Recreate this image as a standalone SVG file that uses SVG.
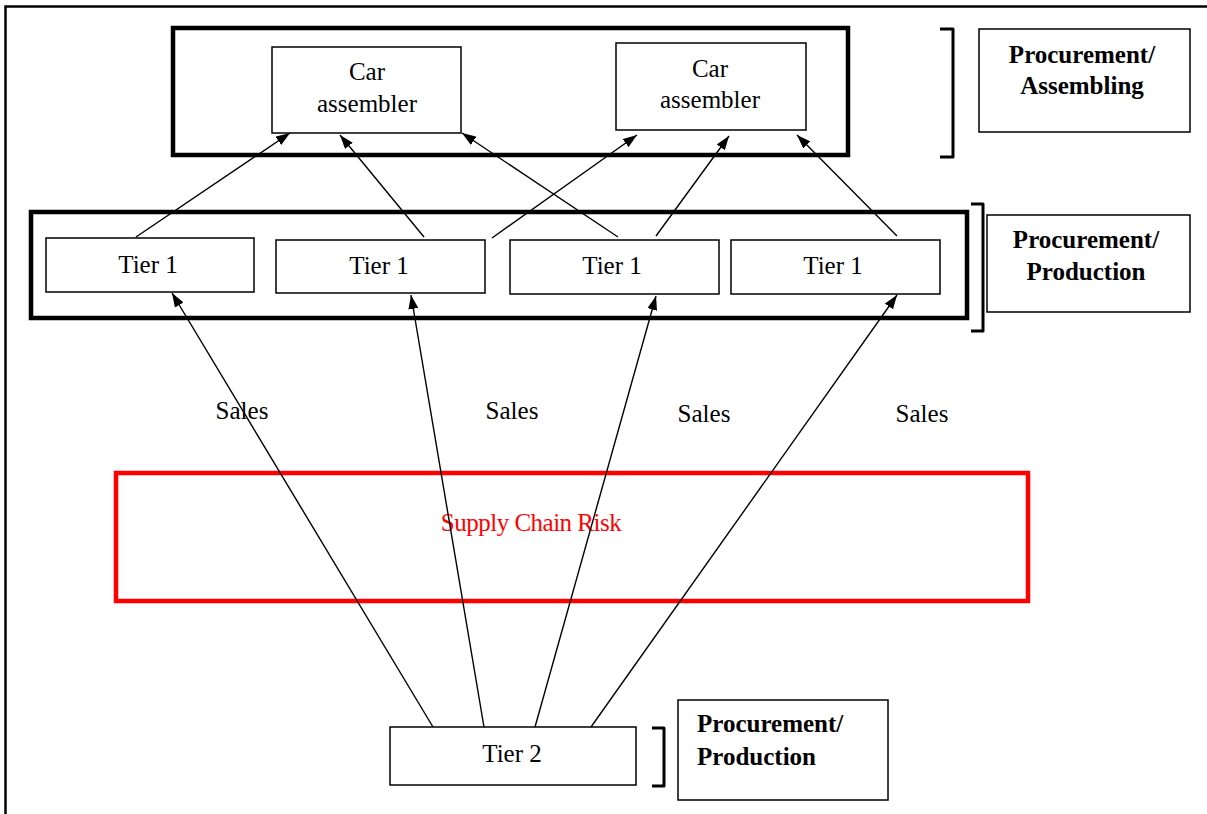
<svg xmlns="http://www.w3.org/2000/svg" width="1207" height="814" viewBox="0 0 1207 814">
<defs>
<marker id="ah" viewBox="0 0 14 10" refX="14" refY="5" markerWidth="14" markerHeight="10" markerUnits="userSpaceOnUse" orient="auto">
<path d="M0,0 L14,5 L0,10 Z" fill="#000"/>
</marker>
<style>
text{font-family:'Liberation Serif','Times New Roman',Times,serif;font-size:25px;fill:#000;text-anchor:middle}
.b{font-weight:bold}
.box{fill:#fff;stroke:#000;stroke-width:1.5}
.thick{fill:none;stroke:#000;stroke-width:4.5}
.br{fill:none;stroke:#000;stroke-width:3;stroke-linejoin:round}
.c{fill:none;stroke:#000;stroke-width:1.4;marker-end:url(#ah)}
</style>
</defs>
<rect x="0" y="0" width="1207" height="814" fill="#fff"/>
<rect x="5.5" y="6.5" width="1230" height="840" fill="none" stroke="#000" stroke-width="2.5"/>

<g id="assembling-group">
<rect class="thick" x="173" y="28" width="675" height="127"/>
</g>
<g id="production-group">
<rect class="thick" x="31" y="212" width="936" height="106"/>
</g>
<g id="risk">
<rect x="116" y="473" width="912" height="128" fill="none" stroke="#ff0000" stroke-width="4.5"/>
<text font-family="Liberation Serif, serif" x="531" y="531" style="fill:#ff0000" letter-spacing="-0.5">Supply Chain Risk</text>
</g>

<g id="car1">
<rect class="box" x="272" y="47" width="189" height="86"/>
<text font-family="Liberation Serif, serif" x="367" y="80">Car</text>
<text font-family="Liberation Serif, serif" x="367" y="112">assembler</text>
</g>
<g id="car2">
<rect class="box" x="616" y="43" width="190" height="87"/>
<text font-family="Liberation Serif, serif" x="710" y="77">Car</text>
<text font-family="Liberation Serif, serif" x="710" y="108">assembler</text>
</g>

<g id="tier1-a">
<rect class="box" x="46" y="238" width="208" height="54"/>
<text font-family="Liberation Serif, serif" x="148" y="273">Tier 1</text>
</g>
<g id="tier1-b">
<rect class="box" x="276" y="240" width="209" height="53"/>
<text font-family="Liberation Serif, serif" x="379" y="274">Tier 1</text>
</g>
<g id="tier1-c">
<rect class="box" x="510" y="240" width="209" height="54"/>
<text font-family="Liberation Serif, serif" x="612" y="274">Tier 1</text>
</g>
<g id="tier1-d">
<rect class="box" x="731" y="240" width="209" height="54"/>
<text font-family="Liberation Serif, serif" x="833" y="274">Tier 1</text>
</g>

<g id="tier2">
<rect class="box" x="390" y="727" width="246" height="58"/>
<text font-family="Liberation Serif, serif" x="512" y="762">Tier 2</text>
</g>

<g id="label-assembling">
<path class="br" d="M940,29 H953 V157 H940"/>
<rect class="box" x="979" y="29" width="211" height="103"/>
<text class="b" font-family="Liberation Serif, serif" x="1082" y="63">Procurement/</text>
<text class="b" font-family="Liberation Serif, serif" x="1082" y="94">Assembling</text>
</g>
<g id="label-production1">
<path class="br" d="M971,204 H983 V331 H971"/>
<rect class="box" x="987" y="215" width="203" height="97"/>
<text class="b" font-family="Liberation Serif, serif" x="1086" y="248">Procurement/</text>
<text class="b" font-family="Liberation Serif, serif" x="1086" y="280">Production</text>
</g>
<g id="label-production2">
<path class="br" d="M652,728 H664 V786 H652"/>
<rect class="box" x="678" y="700" width="210" height="100"/>
<text class="b" font-family="Liberation Serif, serif" x="697" y="732" style="text-anchor:start">Procurement/</text>
<text class="b" font-family="Liberation Serif, serif" x="697" y="765" style="text-anchor:start">Production</text>
</g>

<g id="sales-labels">
<text font-family="Liberation Serif, serif" x="242" y="419">Sales</text>
<text font-family="Liberation Serif, serif" x="512" y="419">Sales</text>
<text font-family="Liberation Serif, serif" x="704" y="422">Sales</text>
<text font-family="Liberation Serif, serif" x="922" y="422">Sales</text>
</g>

<g id="connectors">
<line class="c" x1="136" y1="237" x2="290" y2="133"/>
<line class="c" x1="424" y1="237" x2="340" y2="135"/>
<line class="c" x1="492" y1="238" x2="637" y2="135"/>
<line class="c" x1="618" y1="237" x2="462" y2="133"/>
<line class="c" x1="656" y1="236" x2="729" y2="136"/>
<line class="c" x1="897" y1="236" x2="797" y2="135"/>
<line class="c" x1="433" y1="727" x2="172" y2="293"/>
<line class="c" x1="484" y1="727" x2="411" y2="295"/>
<line class="c" x1="535" y1="727" x2="656" y2="296"/>
<line class="c" x1="591" y1="727" x2="897" y2="295"/>
</g>
</svg>
